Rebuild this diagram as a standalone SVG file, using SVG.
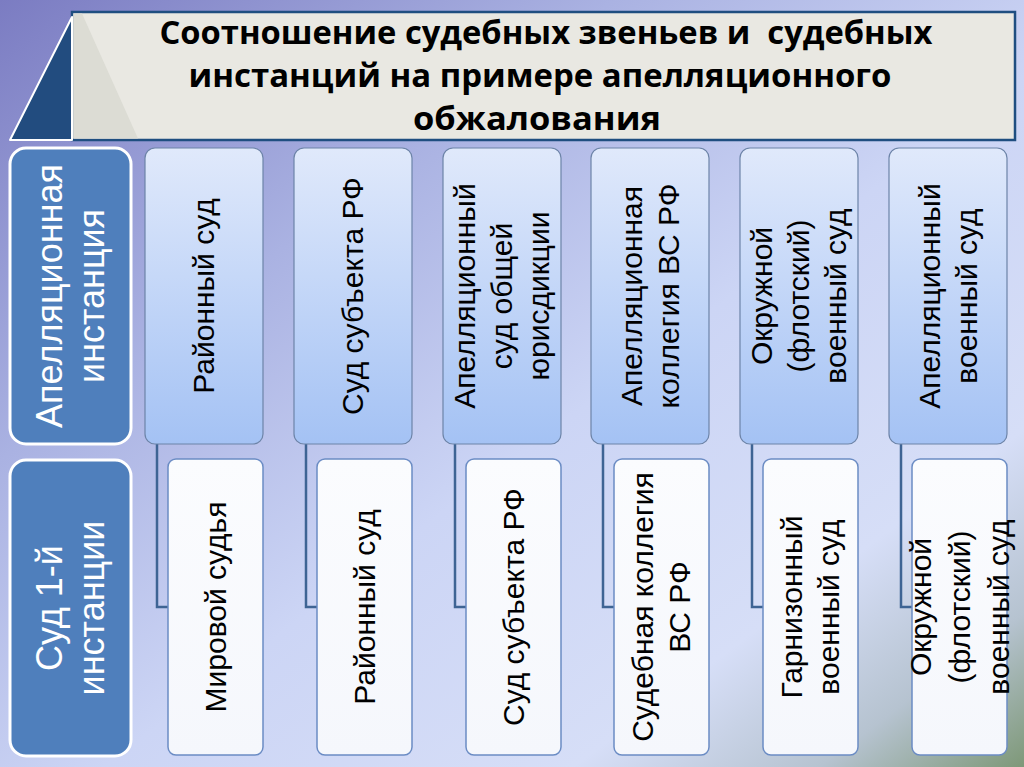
<svg xmlns="http://www.w3.org/2000/svg" width="1024" height="767" viewBox="0 0 1024 767">
  <defs>
    <linearGradient id="bg" x1="0" y1="0" x2="1" y2="1">
      <stop offset="0" stop-color="#7b7cc2"/>
      <stop offset="0.3" stop-color="#aab2e2"/>
      <stop offset="0.55" stop-color="#ccd5f5"/>
      <stop offset="0.78" stop-color="#d6def7"/>
      <stop offset="0.9" stop-color="#b6c3d0"/>
      <stop offset="1" stop-color="#7e9878"/>
    </linearGradient>
    <linearGradient id="topg" x1="0" y1="0" x2="0" y2="1">
      <stop offset="0" stop-color="#e0e9fb"/>
      <stop offset="1" stop-color="#a4c2f4"/>
    </linearGradient>
    <linearGradient id="botg" x1="0" y1="0" x2="0" y2="1">
      <stop offset="0" stop-color="#fbfcfe"/>
      <stop offset="1" stop-color="#f5f7fc"/>
    </linearGradient>
  </defs>
  <style>
    .lbl rect { fill: #4f7fbc; stroke: #ffffff; stroke-width: 3; }
    .lbl text { fill: #ffffff; font-family: "Liberation Sans", Arial, sans-serif; font-size: 36px; text-anchor: middle; }
    .top rect { fill: url(#topg); stroke: #6d84a8; stroke-width: 1.2; }
    .bot rect { fill: url(#botg); stroke: #6b8cc4; stroke-width: 1.5; }
    .top text, .bot text { fill: #000000; font-family: "Liberation Sans", Arial, sans-serif; font-size: 30px; text-anchor: middle; }
    .conn path { fill: none; stroke: #3e6494; stroke-width: 2.5; }
    .title text { font-family: "Open Sans", "Liberation Sans", sans-serif; font-weight: 700; font-size: 33px; text-anchor: middle; fill: #000000; }
  </style>

  <rect x="0" y="0" width="1024" height="767" fill="url(#bg)"/>

  <g id="title" class="title">
    <rect x="72" y="12" width="943" height="128" fill="#e9e8e2" stroke="#1f4e80" stroke-width="2.5"/>
    <polygon points="73.5,13.5 82,13.5 138,138.5 73.5,138.5" fill="#dcdcd4"/>
    <polygon points="72,17 72,140 10,140" fill="#224c7f" stroke="#ffffff" stroke-width="2" stroke-linejoin="round"/>
    <text x="546" y="44" textLength="773" lengthAdjust="spacingAndGlyphs" xml:space="preserve">Соотношение судебных звеньев и  судебных</text>
    <text x="540" y="87" textLength="703" lengthAdjust="spacingAndGlyphs">инстанций на примере апелляционного</text>
    <text x="537" y="130" textLength="248" lengthAdjust="spacingAndGlyphs">обжалования</text>
  </g>

  <g id="label-appeal" class="lbl">
    <rect x="10" y="148" width="121" height="296" rx="16"/>
    <text transform="translate(70.5,296) rotate(-90)"><tspan x="0" y="-9">Апелляционная</tspan><tspan x="0" y="33">инстанция</tspan></text>
  </g>
  <g id="label-first" class="lbl">
    <rect x="10" y="460" width="121" height="296" rx="16"/>
    <text transform="translate(70.5,608) rotate(-90)"><tspan x="0" y="-9">Суд 1-й</tspan><tspan x="0" y="33">инстанции</tspan></text>
  </g>

  <g id="connectors" class="conn">
    <path d="M157,444 V607 H168"/>
    <path d="M306,444 V607 H317"/>
    <path d="M455,444 V607 H466"/>
    <path d="M603,444 V607 H614"/>
    <path d="M752,444 V607 H763"/>
    <path d="M901,444 V607 H912"/>
  </g>

  <g id="top1" class="top">
    <rect x="145" y="148" width="118" height="296" rx="10"/>
    <text transform="translate(204,296) rotate(-90)"><tspan x="0" y="10">Районный суд</tspan></text>
  </g>
  <g id="top2" class="top">
    <rect x="294" y="148" width="118" height="296" rx="10"/>
    <text transform="translate(353,296) rotate(-90)"><tspan x="0" y="10">Суд субъекта РФ</tspan></text>
  </g>
  <g id="top3" class="top">
    <rect x="443" y="148" width="118" height="296" rx="10"/>
    <text transform="translate(502,296) rotate(-90)"><tspan x="0" y="-27">Апелляционный</tspan><tspan x="0" y="10">суд общей</tspan><tspan x="0" y="47">юрисдикции</tspan></text>
  </g>
  <g id="top4" class="top">
    <rect x="591" y="148" width="118" height="296" rx="10"/>
    <text transform="translate(650,296) rotate(-90)"><tspan x="0" y="-8.5">Апелляционная</tspan><tspan x="0" y="28.5">коллегия ВС РФ</tspan></text>
  </g>
  <g id="top5" class="top">
    <rect x="740" y="148" width="118" height="296" rx="10"/>
    <text transform="translate(799,296) rotate(-90)"><tspan x="0" y="-27">Окружной</tspan><tspan x="0" y="10">(флотский)</tspan><tspan x="0" y="47">военный суд</tspan></text>
  </g>
  <g id="top6" class="top">
    <rect x="889" y="148" width="118" height="296" rx="10"/>
    <text transform="translate(948,296) rotate(-90)"><tspan x="0" y="-8.5">Апелляционный</tspan><tspan x="0" y="28.5">военный суд</tspan></text>
  </g>

  <g id="bot1" class="bot">
    <rect x="168" y="459" width="95" height="296" rx="8"/>
    <text transform="translate(215.5,607) rotate(-90)"><tspan x="0" y="10">Мировой судья</tspan></text>
  </g>
  <g id="bot2" class="bot">
    <rect x="317" y="459" width="95" height="296" rx="8"/>
    <text transform="translate(364.5,607) rotate(-90)"><tspan x="0" y="10">Районный суд</tspan></text>
  </g>
  <g id="bot3" class="bot">
    <rect x="466" y="459" width="95" height="296" rx="8"/>
    <text transform="translate(513.5,607) rotate(-90)"><tspan x="0" y="10">Суд субъекта РФ</tspan></text>
  </g>
  <g id="bot4" class="bot">
    <rect x="614" y="459" width="95" height="296" rx="8"/>
    <text transform="translate(661.5,607) rotate(-90)"><tspan x="0" y="-8.5">Судебная коллегия</tspan><tspan x="0" y="28.5">ВС РФ</tspan></text>
  </g>
  <g id="bot5" class="bot">
    <rect x="763" y="459" width="95" height="296" rx="8"/>
    <text transform="translate(810.5,607) rotate(-90)"><tspan x="0" y="-8.5">Гарнизонный</tspan><tspan x="0" y="28.5">военный суд</tspan></text>
  </g>
  <g id="bot6" class="bot">
    <rect x="912" y="459" width="95" height="296" rx="8"/>
    <text transform="translate(960,607) rotate(-90)"><tspan x="0" y="-29">Окружной</tspan><tspan x="0" y="10">(флотский)</tspan><tspan x="0" y="49">военный суд</tspan></text>
  </g>
</svg>
